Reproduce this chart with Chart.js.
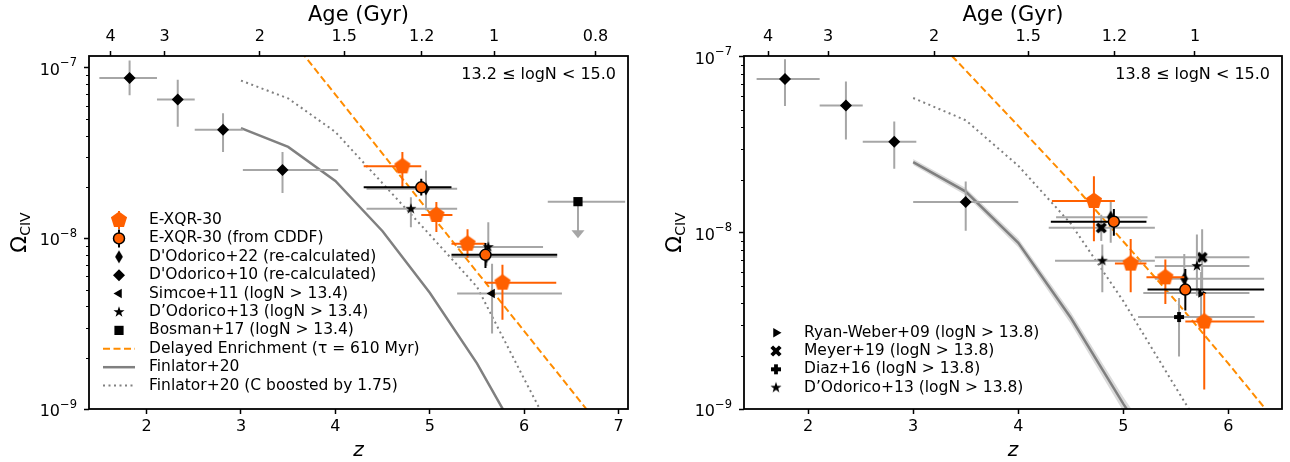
<!DOCTYPE html>
<html>
<head>
<meta charset="utf-8">
<script src="https://cdn.jsdelivr.net/npm/chart.js@4.4.1/dist/chart.umd.min.js"></script>
<style>
  html, body { margin: 0; padding: 0; background: #fff; }
  #wrap { position: relative; width: 1290px; height: 462px; }
  canvas { position: absolute; top: 0; }
  #left { left: 0; }
  #right { left: 645px; }
</style>
</head>
<body>
<div id="wrap">
  <canvas id="left" width="645" height="462"></canvas>
  <canvas id="right" width="645" height="462"></canvas>
</div>
<script>
// ---------- axes / tick labels ----------
const zTicksLeft = [2, 3, 4, 5, 6, 7];
const zTicksRight = [2, 3, 4, 5, 6];
const ageTicksLeft = [4, 3, 2, 1.5, 1.2, 1, 0.8];
const ageTicksRight = [4, 3, 2, 1.5, 1.2, 1];
const yTicks = [1e-9, 1e-8, 1e-7];
const yTickBase = '10';
const yTickExponents = ['−9', '−8', '−7'];

// ---------- left panel: 13.2 <= logN < 15.0 ----------
const xqrZL = [4.71, 5.07, 5.40, 5.77];
const xqrOmegaL = [2.64e-8, 1.37e-8, 9.3e-9, 5.5e-9];
const xqrZRangeL = [[4.30, 4.91], [4.91, 5.24], [5.23, 5.59], [5.59, 6.34]];
const xqrOmegaRangeL = [[1.99e-8, 3.2e-8], [1.09e-8, 1.63e-8], [7.7e-9, 1.13e-8], [3.33e-9, 7.0e-9]];

const cddfZL = [4.91, 5.59];
const cddfOmegaL = [1.99e-8, 8.0e-9];
const cddfZRangeL = [[4.30, 5.23], [5.23, 6.35]];
const cddfOmegaRangeL = [[1.78e-8, 2.23e-8], [6.7e-9, 9.4e-9]];

const dod22ZL = [4.96, 5.60];
const dod22OmegaL = [1.95e-8, 7.8e-9];
const dod22ZRangeL = [[4.33, 5.29], [5.23, 6.35]];
const dod22OmegaRangeL = [[1.46e-8, 2.5e-8], [6.9e-9, 8.8e-9]];

const dod10ZL = [1.82, 2.33, 2.81, 3.44];
const dod10OmegaL = [8.7e-8, 6.5e-8, 4.33e-8, 2.51e-8];
const dod10ZRangeL = [[1.50, 2.11], [2.11, 2.51], [2.51, 3.02], [3.02, 4.03]];
const dod10OmegaRangeL = [[6.9e-8, 1.10e-7], [4.5e-8, 8.5e-8], [3.2e-8, 5.4e-8], [1.84e-8, 3.2e-8]];

const simcoeZ = [5.66];
const simcoeOmega = [4.75e-9];
const simcoeZRange = [[5.29, 6.40]];
const simcoeOmegaRange = [[2.77e-9, 7.1e-9]];

const dod13ZL = [4.80, 5.62];
const dod13OmegaL = [1.49e-8, 8.9e-9];
const dod13ZRangeL = [[4.33, 5.29], [5.29, 6.20]];
const dod13OmegaRangeL = [[1.16e-8, 1.74e-8], [7.4e-9, 1.24e-8]];

const bosmanZ = [6.57];
const bosmanOmega = [1.64e-8];
const bosmanZRange = [[6.25, 7.07]];
const bosmanLimit = [1.0e-8];

const delayedZL = [3.5, 4, 5, 6, 7];
const delayedOmegaL = [1.55e-7, 6.95e-8, 1.41e-8, 2.86e-9, 5.8e-10];
const finlatorZL = [3, 3.5, 4, 4.5, 5, 5.5, 6];
const finlatorOmegaL = [4.42e-8, 3.43e-8, 2.17e-8, 1.1e-8, 4.8e-9, 1.85e-9, 6.0e-10];
const boostedZL = [3, 3.5, 4, 4.5, 5, 5.5, 6, 6.5];
const boostedOmegaL = [8.4e-8, 6.6e-8, 4.2e-8, 2.1e-8, 1.05e-8, 5.2e-9, 1.5e-9, 4.4e-10];

// ---------- right panel: 13.8 <= logN < 15.0 ----------
const xqrZR = [4.72, 5.07, 5.40, 5.77];
const xqrOmegaR = [1.52e-8, 6.7e-9, 5.6e-9, 3.14e-9];
const xqrZRangeR = [[4.32, 4.92], [4.92, 5.22], [5.22, 5.59], [5.59, 6.34]];
const xqrOmegaRangeR = [[8.97e-9, 2.1e-8], [4.6e-9, 9.25e-9], [3.95e-9, 7.06e-9], [1.29e-9, 4.56e-9]];

const cddfZR = [4.91, 5.59];
const cddfOmegaR = [1.16e-8, 4.77e-9];
const cddfZRangeR = [[4.31, 5.22], [5.23, 6.34]];
const cddfOmegaRangeR = [[9.66e-9, 1.37e-8], [3.63e-9, 6.25e-9]];

const dod22ZR = [4.88, 5.58];
const dod22OmegaR = [1.23e-8, 5.5e-9];
const dod22ZRangeR = [[4.36, 5.23], [5.30, 6.34]];
const dod22OmegaRangeR = [[8.8e-9, 1.52e-8], [4.4e-9, 7.6e-9]];

const dod10ZR = [1.78, 2.36, 2.82, 3.50];
const dod10OmegaR = [7.5e-8, 5.3e-8, 3.3e-8, 1.5e-8];
const dod10ZRangeR = [[1.51, 2.11], [2.11, 2.52], [2.52, 3.03], [3.0, 4.0]];
const dod10OmegaRangeR = [[5.27e-8, 9.7e-8], [3.4e-8, 7.26e-8], [2.32e-8, 4.3e-8], [1.03e-8, 1.96e-8]];

const ryanZ = [5.74];
const ryanOmega = [4.56e-9];
const ryanZRange = [[5.19, 6.20]];
const ryanOmegaRange = [[3.3e-9, 6.0e-9]];

const meyerZ = [4.79, 5.75];
const meyerOmega = [1.07e-8, 7.27e-9];
const meyerZRange = [[4.29, 5.30], [5.30, 6.20]];
const meyerOmegaRange = [[9.0e-9, 1.27e-8], [4.6e-9, 1.05e-8]];

const diazZ = [5.53];
const diazOmega = [3.33e-9];
const diazZRange = [[5.14, 6.25]];
const diazOmegaRange = [[1.99e-9, 4.27e-9]];

const dod13ZR = [4.80, 5.70];
const dod13OmegaR = [6.96e-9, 6.5e-9];
const dod13ZRangeR = [[4.35, 5.30], [5.30, 6.20]];
const dod13OmegaRangeR = [[4.6e-9, 8.6e-9], [4.4e-9, 9.8e-9]];

const delayedZR = [3.3, 4, 4.5, 5, 5.5, 6, 6.5];
const delayedOmegaR = [1.12e-7, 4.06e-8, 1.95e-8, 8.95e-9, 4.1e-9, 1.81e-9, 7.8e-10];
const finlatorZR = [3, 3.5, 4, 4.5, 5, 5.5];
const finlatorOmegaR = [2.53e-8, 1.72e-8, 8.8e-9, 3.3e-9, 1.07e-9, 3.8e-10];
const finlatorHiR = [2.63e-8, 1.8e-8, 9.3e-9, 3.55e-9, 1.17e-9, 4.2e-10];
const finlatorLoR = [2.43e-8, 1.64e-8, 8.3e-9, 3.05e-9, 0.97e-9, 3.4e-10];
const boostedZR = [3, 3.5, 4, 4.5, 5, 5.5, 6];
const boostedOmegaR = [5.85e-8, 4.37e-8, 2.41e-8, 1.13e-8, 4.1e-9, 1.32e-9, 4.3e-10];

const leftLegend = ['E-XQR-30', 'E-XQR-30 (from CDDF)', "D'Odorico+22 (re-calculated)",
  "D'Odorico+10 (re-calculated)", 'Simcoe+11 (logN > 13.4)', 'D’Odorico+13 (logN > 13.4)',
  'Bosman+17 (logN > 13.4)', 'Delayed Enrichment (τ = 610 Myr)', 'Finlator+20',
  'Finlator+20 (C boosted by 1.75)'];
const rightLegend = ['Ryan-Weber+09 (logN > 13.8)', 'Meyer+19 (logN > 13.8)',
  'Diaz+16 (logN > 13.8)', 'D’Odorico+13 (logN > 13.8)'];

// ---------- style ----------
const FONT = "'DejaVu Sans', sans-serif";
Chart.defaults.font.family = FONT;
Chart.defaults.color = '#000';
const ORANGE = '#ff6000';
const GREY = '#a6a6a6';

// age (Gyr) -> redshift, flat LCDM, H0 = 67.7, Om = 0.31
const OM = 0.31, OL = 0.69, T_HUBBLE = 977.8 / 67.7;
const zFromAge = t => Math.pow(Math.sinh(1.5 * Math.sqrt(OL) * t / T_HUBBLE) / Math.sqrt(OL / OM), -2 / 3) - 1;

// marker images for shapes Chart.js does not have
function shape(size, color, path) {
  const c = document.createElement('canvas');
  c.width = c.height = size;
  const g = c.getContext('2d');
  g.translate(size / 2, size / 2);
  g.beginPath();
  path.forEach(([x, y], i) => i ? g.lineTo(x, y) : g.moveTo(x, y));
  g.closePath();
  g.fillStyle = color;
  g.fill();
  return c;
}
function ring(n, r1, r2) {
  const p = [];
  for (let i = 0; i < n * (r2 ? 2 : 1); i++) {
    const a = -Math.PI / 2 + i * Math.PI * 2 / (r2 ? 2 * n : n);
    const r = r2 && i % 2 ? r2 : r1;
    p.push([r * Math.cos(a), r * Math.sin(a)]);
  }
  return p;
}
function plus(r, w, rot) {
  const p = [[-w, -r], [w, -r], [w, -w], [r, -w], [r, w], [w, w], [w, r], [-w, r], [-w, w], [-r, w], [-r, -w], [-w, -w]];
  const c = Math.cos(rot), s = Math.sin(rot);
  return p.map(([x, y]) => [x * c - y * s, x * s + y * c]);
}
const PENTAGON = shape(20, ORANGE, ring(5, 8.5));
const STAR = shape(14, '#000', ring(5, 5.8, 2.3));
const THIN_DIAMOND = shape(16, '#000', [[0, -6.5], [3.9, 0], [0, 6.5], [-3.9, 0]]);
const X_FILLED = shape(16, '#000', plus(6, 1.9, Math.PI / 4));
const P_FILLED = shape(14, '#000', plus(5, 1.9, 0));

const pts = (zs, vs) => zs.map((z, i) => ({x: z, y: vs[i]}));

function lineSet(label, zs, vs, color, width, dash) {
  return {label, data: pts(zs, vs), showLine: true, pointRadius: 0, borderColor: color,
    backgroundColor: color, borderWidth: width, borderDash: dash || [], fill: false, tension: 0};
}
function markSet(label, zs, vs, zr, vr, style, errColor, extra) {
  return Object.assign({label, data: pts(zs, vs), showLine: false,
    err: {x: zr, y: vr, color: errColor, width: 2}}, style, extra || {});
}
const st = {
  xqr: {pointStyle: PENTAGON, pointRadius: 8, backgroundColor: ORANGE, borderColor: ORANGE, pointBorderWidth: 0, legendBar: true},
  cddf: {pointStyle: 'circle', pointRadius: 5.5, backgroundColor: ORANGE, borderColor: '#000', pointBorderWidth: 1.5, legendBar: true},
  dod22: {pointStyle: THIN_DIAMOND, pointRadius: 6, backgroundColor: '#000', borderColor: '#000', pointBorderWidth: 0},
  dod10: {pointStyle: 'rectRot', pointRadius: 6, backgroundColor: '#000', borderColor: '#000', pointBorderWidth: 0},
  simcoe: {pointStyle: 'triangle', pointRotation: -90, pointRadius: 5.5, backgroundColor: '#000', borderColor: '#000', pointBorderWidth: 0},
  ryan: {pointStyle: 'triangle', pointRotation: 90, pointRadius: 5.5, backgroundColor: '#000', borderColor: '#000', pointBorderWidth: 0},
  dod13: {pointStyle: STAR, pointRadius: 6, backgroundColor: '#000', borderColor: '#000', pointBorderWidth: 0},
  bosman: {pointStyle: 'rect', pointRadius: 6.5, backgroundColor: '#000', borderColor: '#000', pointBorderWidth: 0},
  meyer: {pointStyle: X_FILLED, pointRadius: 6, backgroundColor: '#000', borderColor: '#000', pointBorderWidth: 0},
  diaz: {pointStyle: P_FILLED, pointRadius: 6, backgroundColor: '#000', borderColor: '#000', pointBorderWidth: 0}
};

// ---------- plugins ----------
const errorBars = {
  id: 'errorBars',
  beforeDatasetDraw(chart, args) {
    const ds = chart.data.datasets[args.index];
    if (!ds.err) return;
    const {ctx, chartArea: a, scales: {x, y}} = chart;
    ctx.save();
    ctx.beginPath();
    ctx.rect(a.left, a.top, a.width, a.height);
    ctx.clip();
    ctx.strokeStyle = ds.err.color;
    ctx.fillStyle = ds.err.color;
    ctx.lineWidth = ds.err.width;
    ds.data.forEach((p, i) => {
      const px = x.getPixelForValue(p.x), py = y.getPixelForValue(p.y);
      ctx.beginPath();
      if (ds.err.x) {
        ctx.moveTo(x.getPixelForValue(ds.err.x[i][0]), py);
        ctx.lineTo(x.getPixelForValue(ds.err.x[i][1]), py);
      }
      if (ds.err.y) {
        ctx.moveTo(px, y.getPixelForValue(ds.err.y[i][0]));
        ctx.lineTo(px, y.getPixelForValue(ds.err.y[i][1]));
      }
      ctx.stroke();
      if (ds.upperLimit) {
        const tip = y.getPixelForValue(ds.upperLimit[i]);
        ctx.beginPath();
        ctx.moveTo(px, py);
        ctx.lineTo(px, tip - 7);
        ctx.stroke();
        ctx.beginPath();
        ctx.moveTo(px - 6.5, tip - 8);
        ctx.lineTo(px + 6.5, tip - 8);
        ctx.lineTo(px, tip);
        ctx.closePath();
        ctx.fill();
      }
    });
    ctx.restore();
  }
};

const frame = {
  id: 'frame',
  afterDatasetsDraw(chart) {
    const {ctx, chartArea: a} = chart;
    ctx.save();
    ctx.strokeStyle = '#000';
    ctx.lineWidth = 1.8;
    ctx.strokeRect(a.left, a.top, a.width, a.height);
    ctx.restore();
  }
};

// minor log ticks and "10^n" labels on the y axis
const logAxisDecor = {
  id: 'logAxisDecor',
  afterDraw(chart) {
    const {ctx, chartArea: a, scales: {y}} = chart;
    ctx.save();
    ctx.strokeStyle = '#000';
    ctx.lineWidth = 1;
    ctx.beginPath();
    yTicks.forEach(d => {
      for (let k = 2; k <= 9; k++) {
        const v = k * d;
        if (v <= y.min || v >= y.max) continue;
        const py = Math.round(y.getPixelForValue(v)) + 0.5;
        ctx.moveTo(a.left - 3, py);
        ctx.lineTo(a.left, py);
      }
    });
    ctx.stroke();
    ctx.fillStyle = '#000';
    ctx.textAlign = 'left';
    ctx.textBaseline = 'alphabetic';
    yTicks.forEach((v, i) => {
      const py = y.getPixelForValue(v);
      ctx.font = '11.5px ' + FONT;
      const we = ctx.measureText(yTickExponents[i]).width;
      ctx.font = '16px ' + FONT;
      const wb = ctx.measureText(yTickBase).width;
      const right = a.left - 12;
      ctx.fillText(yTickBase, right - we - wb, py + 7);
      ctx.font = '11.5px ' + FONT;
      ctx.fillText(yTickExponents[i], right - we, py - 1.5);
    });
    ctx.restore();
  }
};

const panelLegend = {
  id: 'panelLegend',
  afterDraw(chart, args, o) {
    if (!o.items) return;
    const ctx = chart.ctx;
    o.items.forEach((label, i) => {
      const ds = chart.data.datasets.find(d => d.label === label);
      const y = o.y + i * o.dy;
      ctx.save();
      if (ds.showLine) {
        ctx.strokeStyle = ds.borderColor;
        ctx.lineWidth = ds.borderWidth;
        ctx.setLineDash(ds.borderDash);
        ctx.beginPath();
        ctx.moveTo(o.x - 16, y);
        ctx.lineTo(o.x + 16, y);
        ctx.stroke();
      } else {
        if (ds.legendBar) {
          ctx.strokeStyle = ds.err.color;
          ctx.lineWidth = ds.err.width;
          ctx.beginPath();
          ctx.moveTo(o.x, y - 9);
          ctx.lineTo(o.x, y + 9);
          ctx.stroke();
        }
        ctx.fillStyle = ds.backgroundColor;
        ctx.strokeStyle = ds.borderColor;
        ctx.lineWidth = ds.pointBorderWidth;
        Chart.helpers.drawPoint(ctx, {pointStyle: ds.pointStyle, rotation: ds.pointRotation || 0,
          radius: ds.pointRadius, borderWidth: ds.pointBorderWidth}, o.x, y);
      }
      ctx.restore();
      ctx.save();
      ctx.fillStyle = '#000';
      ctx.font = '15.5px ' + FONT;
      ctx.textAlign = 'left';
      ctx.textBaseline = 'middle';
      ctx.fillText(label, o.tx, y);
      ctx.restore();
    });
  }
};

const panelNote = {
  id: 'panelNote',
  afterDraw(chart, args, o) {
    const {ctx, chartArea: a} = chart;
    ctx.save();
    ctx.fillStyle = '#000';
    ctx.font = '16px ' + FONT;
    ctx.textAlign = 'right';
    ctx.textBaseline = 'middle';
    ctx.fillText(o.text, a.right - 12, a.top + 19);
    ctx.restore();
  }
};

const yTitle = {
  id: 'yTitle',
  afterDraw(chart) {
    const {ctx, chartArea: a} = chart;
    ctx.save();
    ctx.translate(a.left - 63.5, (a.top + a.bottom) / 2);
    ctx.rotate(-Math.PI / 2);
    ctx.fillStyle = '#000';
    ctx.textBaseline = 'alphabetic';
    ctx.font = '22px ' + FONT;
    const w1 = ctx.measureText('Ω').width;
    ctx.font = '14px ' + FONT;
    const w2 = ctx.measureText('CIV').width;
    const x0 = -(w1 + w2) / 2;
    ctx.font = '22px ' + FONT;
    ctx.fillText('Ω', x0, 0);
    ctx.font = '14px ' + FONT;
    ctx.fillText('CIV', x0 + w1, 4);
    ctx.restore();
  }
};

// ---------- chart builder ----------
const tickGrid = {display: true, drawOnChartArea: false, drawTicks: true, tickLength: 5, tickWidth: 1.5, tickColor: '#000'};

function makePanel(id, p) {
  p.datasets.forEach((d, i) => { d.order = p.datasets.length - i; });
  return new Chart(document.getElementById(id), {
    type: 'scatter',
    data: {datasets: p.datasets},
    options: {
      responsive: false,
      animation: false,
      events: [],
      devicePixelRatio: 1,
      layout: {padding: {left: 0, right: p.padRight, top: 0, bottom: 0}},
      scales: {
        x: {
          type: 'linear', position: 'bottom', min: p.zMin, max: p.zMax, bounds: 'data',
          afterBuildTicks: s => { s.ticks = p.zTicks.map(v => ({value: v})); },
          afterFit: s => { s.height = 53; },
          ticks: {autoSkip: false, maxRotation: 0, padding: 3, font: {size: 16}, callback: v => String(v)},
          grid: tickGrid, border: {display: false},
          title: {display: true, text: 'z', font: {size: 20, style: 'italic', lineHeight: 1}, padding: {top: 0, bottom: 1}}
        },
        x2: {
          type: 'linear', position: 'top', min: p.zMin, max: p.zMax, bounds: 'data',
          afterBuildTicks: s => { s.ticks = p.ages.map(a => ({value: zFromAge(a)})); },
          afterFit: s => { s.height = 56; },
          ticks: {autoSkip: false, maxRotation: 0, padding: 5, font: {size: 16}, callback: (v, i) => String(p.ages[i])},
          grid: tickGrid, border: {display: false},
          title: {display: true, text: 'Age (Gyr)', font: {size: 21, lineHeight: 1}, padding: {top: 5, bottom: 0}}
        },
        y: {
          type: 'logarithmic', position: 'left', min: 1e-9, max: p.yMax, bounds: 'data',
          afterBuildTicks: s => { s.ticks = yTicks.map(v => ({value: v, major: true})); },
          afterFit: s => { s.width = p.yWidth; },
          ticks: {display: false, autoSkip: false},
          grid: tickGrid, border: {display: false}
        }
      },
      plugins: {
        legend: {display: false},
        tooltip: {enabled: false},
        panelLegend: p.legend,
        panelNote: {text: p.note}
      }
    },
    plugins: [errorBars, frame, logAxisDecor, panelLegend, panelNote, yTitle]
  });
}

makePanel('left', {
  zMin: 1.39, zMax: 7.1, yMax: 1.17e-7, yWidth: 89, padRight: 17,
  zTicks: zTicksLeft, ages: ageTicksLeft, note: '13.2 ≤ logN < 15.0',
  legend: {x: 119, tx: 149, y: 220, dy: 18.4, items: leftLegend},
  datasets: [
    lineSet('Finlator+20', finlatorZL, finlatorOmegaL, '#808080', 2.5),
    lineSet('Finlator+20 (C boosted by 1.75)', boostedZL, boostedOmegaL, '#808080', 2, [2, 3.5]),
    lineSet('Delayed Enrichment (τ = 610 Myr)', delayedZL, delayedOmegaL, '#ff8c00', 2, [7, 3.5]),
    markSet("D'Odorico+10 (re-calculated)", dod10ZL, dod10OmegaL, dod10ZRangeL, dod10OmegaRangeL, st.dod10, GREY),
    markSet("D'Odorico+22 (re-calculated)", dod22ZL, dod22OmegaL, dod22ZRangeL, dod22OmegaRangeL, st.dod22, GREY),
    markSet('Simcoe+11 (logN > 13.4)', simcoeZ, simcoeOmega, simcoeZRange, simcoeOmegaRange, st.simcoe, GREY),
    markSet('D’Odorico+13 (logN > 13.4)', dod13ZL, dod13OmegaL, dod13ZRangeL, dod13OmegaRangeL, st.dod13, GREY),
    markSet('Bosman+17 (logN > 13.4)', bosmanZ, bosmanOmega, bosmanZRange, null, st.bosman, GREY, {upperLimit: bosmanLimit}),
    markSet('E-XQR-30', xqrZL, xqrOmegaL, xqrZRangeL, xqrOmegaRangeL, st.xqr, ORANGE),
    markSet('E-XQR-30 (from CDDF)', cddfZL, cddfOmegaL, cddfZRangeL, cddfOmegaRangeL, st.cddf, '#000')
  ]
});

makePanel('right', {
  zMin: 1.39, zMax: 6.51, yMax: 1.013e-7, yWidth: 99, padRight: 7,
  zTicks: zTicksRight, ages: ageTicksRight, note: '13.8 ≤ logN < 15.0',
  legend: {x: 131, tx: 159, y: 332.7, dy: 18.3, items: rightLegend},
  datasets: [
    Object.assign(lineSet('Finlator+20 upper', finlatorZR, finlatorHiR, 'rgba(0,0,0,0)', 0),
      {fill: '+1', backgroundColor: 'rgba(150,150,150,0.35)'}),
    lineSet('Finlator+20 lower', finlatorZR, finlatorLoR, 'rgba(0,0,0,0)', 0),
    lineSet('Finlator+20', finlatorZR, finlatorOmegaR, '#808080', 2.5),
    lineSet('Finlator+20 (C boosted by 1.75)', boostedZR, boostedOmegaR, '#808080', 2, [2, 3.5]),
    lineSet('Delayed Enrichment (τ = 610 Myr)', delayedZR, delayedOmegaR, '#ff8c00', 2, [7, 3.5]),
    markSet("D'Odorico+10 (re-calculated)", dod10ZR, dod10OmegaR, dod10ZRangeR, dod10OmegaRangeR, st.dod10, GREY),
    markSet("D'Odorico+22 (re-calculated)", dod22ZR, dod22OmegaR, dod22ZRangeR, dod22OmegaRangeR, st.dod22, GREY),
    markSet('Ryan-Weber+09 (logN > 13.8)', ryanZ, ryanOmega, ryanZRange, ryanOmegaRange, st.ryan, GREY),
    markSet('Meyer+19 (logN > 13.8)', meyerZ, meyerOmega, meyerZRange, meyerOmegaRange, st.meyer, GREY),
    markSet('Diaz+16 (logN > 13.8)', diazZ, diazOmega, diazZRange, diazOmegaRange, st.diaz, GREY),
    markSet('D’Odorico+13 (logN > 13.8)', dod13ZR, dod13OmegaR, dod13ZRangeR, dod13OmegaRangeR, st.dod13, GREY),
    markSet('E-XQR-30', xqrZR, xqrOmegaR, xqrZRangeR, xqrOmegaRangeR, st.xqr, ORANGE),
    markSet('E-XQR-30 (from CDDF)', cddfZR, cddfOmegaR, cddfZRangeR, cddfOmegaRangeR, st.cddf, '#000')
  ]
});
</script>
</body>
</html>
